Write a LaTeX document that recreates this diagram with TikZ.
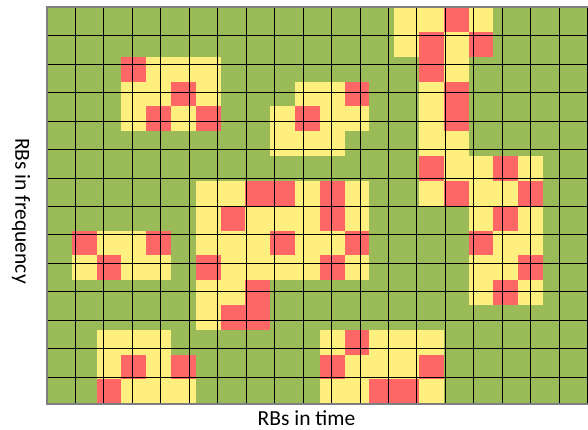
\documentclass[tikz,border=0pt]{standalone}
\usepackage{fontspec}
\setmainfont{Carlito}
\usepackage{xcolor}
\usepackage{tikz}

\definecolor{rbgreen}{HTML}{9BBB59}
\definecolor{rbyellow}{HTML}{FFEF7F}
\definecolor{rbred}{HTML}{FF6666}
\definecolor{rbframe}{HTML}{7F7F7F}

\begin{document}
\begin{tikzpicture}[
  free/.style={fill=rbgreen},
  used/.style={fill=rbyellow},
  hit/.style={fill=rbred},
  gridline/.style={line width=0.9pt, black},
  frame/.style={line width=1.6pt, rbframe},
  axislabel/.style={font=\fontsize{21.5}{24}\selectfont, inner sep=0pt},
]
\useasboundingbox (0pt,0pt) rectangle (588pt,-430pt);

%% Resource grid
\begin{scope}
\clip (0pt,0pt) rectangle (588pt,-430pt);
\begin{scope}[shift={(47pt,-7.3pt)}, x=24.8pt, y=-24.8pt]
  \fill[free] (0,0) rectangle (22,16);
  % yellow cells, per row
  \foreach \r/\cols in {0/{14,15,17}, 1/{14,16}, 2/{4,5,6,16},
      3/{3,4,6,10,11,15}, 4/{3,5,9,11,12,15}, 5/{9,10,11,15,16},
      6/{16,17,19}, 7/{6,7,10,12,15,17,18}, 8/{6,8,9,10,12,17,19},
      9/{2,3,6,7,8,10,11,18,19}, 10/{1,3,4,7,8,9,10,12,17,18},
      11/{6,7,17,19}, 12/{6}, 13/{2,3,4,11,13,14,15},
      14/{2,4,12,13,14}, 15/{3,4,5,11,12,15}}
    \foreach \c in \cols
      \fill[used] (\c,\r) rectangle ++(1,1);
  % red cells, per row
  \foreach \r/\cols in {0/{16}, 1/{15,17}, 2/{3,15}, 3/{5,12,16},
      4/{4,6,10,16}, 6/{15,18}, 7/{8,9,11,16,19}, 8/{7,11,18},
      9/{1,4,9,12,17}, 10/{2,6,11,19}, 11/{8,18}, 12/{7,8},
      13/{12}, 14/{3,5,11,15}, 15/{2,13,14}}
    \foreach \c in \cols
      \fill[hit] (\c,\r) rectangle ++(1,1);
  \draw[gridline] (0,0) grid (22,16);
  \draw[frame] (22,0) -- (0,0) -- (0,16) -- (22,16);
\end{scope}
\end{scope}

%% Axis labels
\node[axislabel] (tlabel) at (306.5pt,-418.5pt) {RBs in time};
\node[axislabel, rotate=-90] (flabel) at (21pt,-211pt) {RBs in frequency};

\end{tikzpicture}
\end{document}
